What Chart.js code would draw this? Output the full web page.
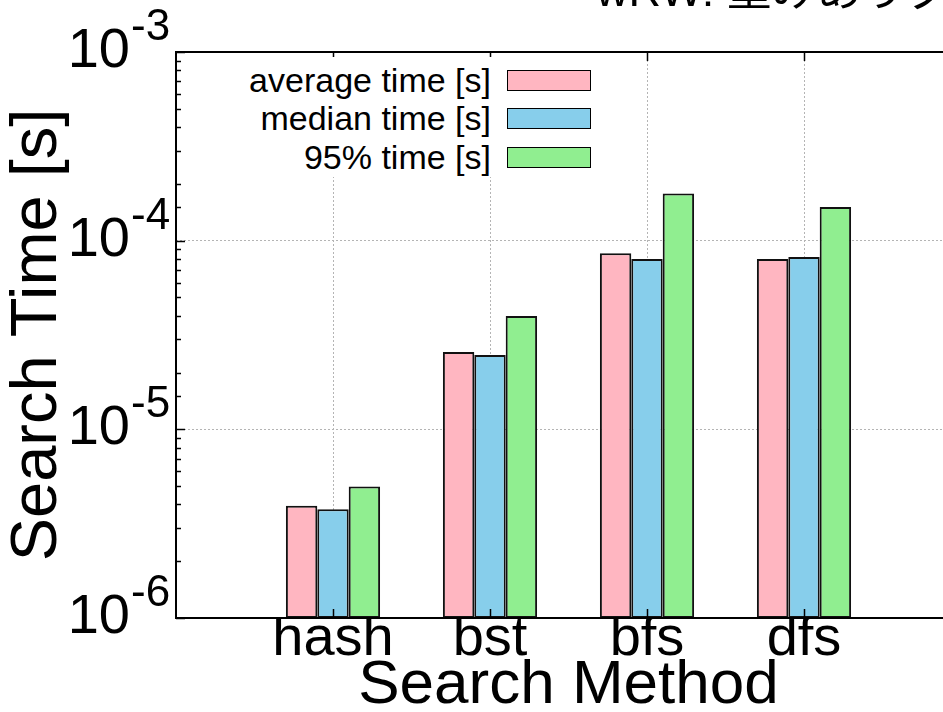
<!DOCTYPE html>
<html lang="ja">
<head>
<meta charset="UTF-8">
<title>wRW: 重みありグラフ</title>
<script src="https://cdn.jsdelivr.net/npm/chart.js@4.4.1/dist/chart.umd.min.js"></script>
<style>
    html, body {
        margin: 0;
        padding: 0;
        width: 943px;
        height: 712px;
        overflow: hidden;
        background: #fff;
    }
    #chart-wrap {
        position: absolute;
        left: 0;
        top: 0;
        width: 1000px;
        height: 712px;
    }
    #title {
        position: absolute;
        left: 596px;
        top: -32px;
        font: 45px "Liberation Sans", "Noto Sans CJK JP", sans-serif;
        line-height: 45px;
        white-space: nowrap;
        color: #000;
    }
    #legend {
        position: absolute;
        left: 238px;
        top: 57px;
        width: 353px;
        padding: 4px 7px 0 0;
        background: #fff;
        font: 34px "Liberation Sans", Arial, sans-serif;
        color: #000;
    }
    .legend-row {
        display: flex;
        justify-content: flex-end;
        align-items: center;
        height: 38.5px;
    }
    .legend-box {
        width: 84px;
        height: 21px;
        margin-left: 16px;
        border: 1.5px solid #000;
        box-sizing: border-box;
    }
</style>
</head>
<body>

<div id="chart-wrap"><canvas id="chart"></canvas></div>
<div id="title">wRW: 重みありグラフ</div>
<div id="legend"></div>

<script>
    // data (seconds)
    const categories = ['hash', 'bst', 'bfs', 'dfs'];
    const seriesNames = ['average time [s]', 'median time [s]', '95% time [s]'];
    const averageTime = [3.93e-6, 2.57e-5, 8.57e-5, 8.0e-5];
    const medianTime = [3.77e-6, 2.48e-5, 8.0e-5, 8.2e-5];
    const p95Time = [4.97e-6, 3.99e-5, 1.78e-4, 1.51e-4];
    const yExponents = [-6, -5, -4, -3];

    const colors = ['#ffb6c1', '#87ceeb', '#90ee90'];
    const FONT = '"Liberation Sans", Arial, sans-serif';
    Chart.defaults.font.family = FONT;
    Chart.defaults.color = '#000';

    function isPow10(v) {
        const l = Math.log10(v);
        return Math.abs(l - Math.round(l)) < 1e-6;
    }

    // gnuplot-like frame, inward ticks and 10^n labels
    const framePlugin = {
        id: 'frame',
        afterDatasetsDraw(chart) {
            const {ctx, chartArea: a, scales} = chart;
            const x = scales.x, y = scales.y;
            ctx.save();
            ctx.strokeStyle = '#000';
            ctx.lineWidth = 1.5;
            y.ticks.forEach(t => {
                const py = Math.round(y.getPixelForValue(t.value)) + 0.5;
                const len = isPow10(t.value) ? 9 : 5;
                ctx.beginPath();
                ctx.moveTo(a.left, py);
                ctx.lineTo(a.left + len, py);
                ctx.stroke();
            });
            categories.forEach((c, i) => {
                const px = Math.round(x.getPixelForValue(i)) + 0.5;
                ctx.beginPath();
                ctx.moveTo(px, a.top);
                ctx.lineTo(px, a.top + 9);
                ctx.moveTo(px, a.bottom);
                ctx.lineTo(px, a.bottom - 9);
                ctx.stroke();
            });
            ctx.lineWidth = 2;
            ctx.strokeRect(a.left, a.top, a.right - a.left, a.bottom - a.top);

            ctx.fillStyle = '#000';
            yExponents.forEach(e => {
                const py = y.getPixelForValue(Math.pow(10, e));
                ctx.textBaseline = 'alphabetic';
                ctx.textAlign = 'right';
                ctx.font = '56px ' + FONT;
                ctx.fillText('10', 130, py + 15);
                ctx.textAlign = 'left';
                ctx.font = '44px ' + FONT;
                ctx.fillText(String(e), 131, py - 12);
            });
            ctx.restore();
        }
    };

    const seriesValues = [averageTime, medianTime, p95Time];
    const datasets = seriesNames.map((name, s) => ({
        label: name,
        data: categories.map((c, i) => ({x: i, y: seriesValues[s][i]})),
        backgroundColor: colors[s],
        borderColor: '#111',
        borderWidth: 2,
        borderSkipped: false,
        barPercentage: 1,
        categoryPercentage: 0.6
    }));

    new Chart(document.getElementById('chart'), {
        type: 'bar',
        data: {datasets: datasets},
        options: {
            responsive: true,
            maintainAspectRatio: false,
            animation: false,
            layout: {padding: {top: 52, right: 39, left: 0, bottom: 0}},
            plugins: {
                legend: {display: false},
                tooltip: {enabled: false}
            },
            scales: {
                x: {
                    type: 'linear',
                    min: -1,
                    max: 4,
                    offset: false,
                    afterFit: s => { s.height = 94; },
                    grid: {
                        offset: false,
                        drawTicks: false,
                        color: c => (c.tick && c.tick.value >= 0 && c.tick.value < categories.length) ? '#b4b4b4' : 'rgba(0,0,0,0)',
                        lineWidth: 1
                    },
                    border: {display: false, dash: [2, 2]},
                    ticks: {
                        stepSize: 1,
                        autoSkip: false,
                        maxRotation: 0,
                        padding: 0,
                        font: {size: 56, lineHeight: 0.78},
                        callback: v => categories[v] !== undefined ? categories[v] : ''
                    },
                    title: {
                        display: true,
                        text: 'Search Method',
                        font: {size: 62, lineHeight: 0.85},
                        padding: {top: 0, bottom: 0}
                    }
                },
                y: {
                    type: 'logarithmic',
                    min: 1e-6,
                    max: 1e-3,
                    afterFit: s => { s.width = 176; },
                    grid: {
                        drawTicks: false,
                        color: c => (c.tick && isPow10(c.tick.value)) ? '#b4b4b4' : 'rgba(0,0,0,0)',
                        lineWidth: 1
                    },
                    border: {display: false, dash: [2, 2]},
                    ticks: {display: false},
                    title: {
                        display: true,
                        text: 'Search Time [s]',
                        font: {size: 65, lineHeight: 1},
                        padding: {top: 6, bottom: 0}
                    }
                }
            }
        },
        plugins: [framePlugin]
    });

    // key, text on the left of the sample box as gnuplot draws it
    const legend = document.getElementById('legend');
    seriesNames.forEach((name, s) => {
        const row = document.createElement('div');
        row.className = 'legend-row';
        const label = document.createElement('span');
        label.textContent = name;
        const box = document.createElement('span');
        box.className = 'legend-box';
        box.style.background = colors[s];
        row.appendChild(label);
        row.appendChild(box);
        legend.appendChild(row);
    });
</script>
</body>
</html>
